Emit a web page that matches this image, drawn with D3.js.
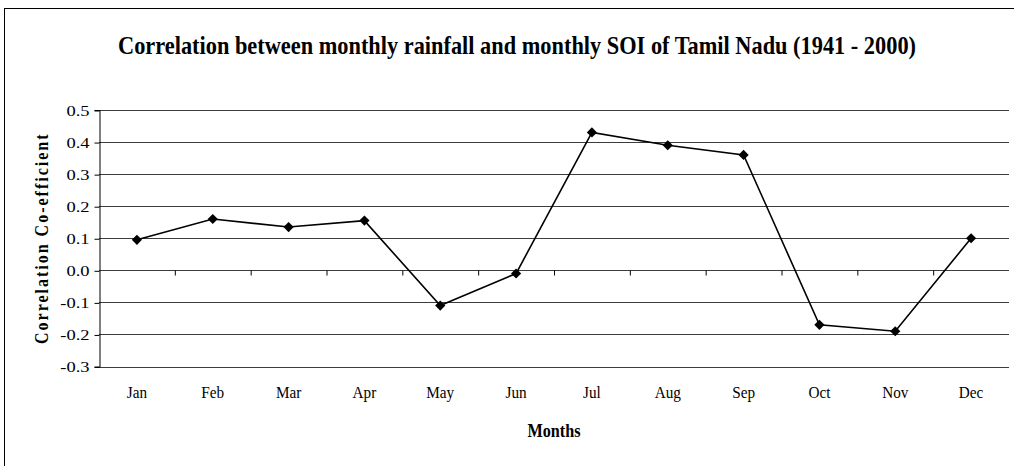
<!DOCTYPE html>
<html lang="en">
<head>
    <meta charset="UTF-8">
    <title>Correlation between monthly rainfall and monthly SOI of Tamil Nadu</title>
    <script src="https://d3js.org/d3.v7.min.js"></script>
    <style>
        body { margin: 0; background: #fff; }
        svg { font-family: "Liberation Serif", "Times New Roman", serif; }
    </style>
</head>
<body>
    <div id="chart"></div>
    <script>
        const months = ["Jan", "Feb", "Mar", "Apr", "May", "Jun", "Jul", "Aug", "Sep", "Oct", "Nov", "Dec"];
        const correlation = [0.095, 0.16, 0.135, 0.155, -0.11, -0.01, 0.43, 0.39, 0.36, -0.17, -0.19, 0.10];
        const yTicks = [-0.3, -0.2, -0.1, 0.0, 0.1, 0.2, 0.3, 0.4, 0.5];

        const width = 1014;
        const height = 466;
        const margin = { top: 110, right: 5, bottom: 99.5, left: 99 };

        const svg = d3.select("#chart").append("svg")
            .attr("width", width)
            .attr("height", height);

        // outer chart border (cropped on the right and bottom)
        svg.append("rect")
            .attr("x", 4.5)
            .attr("y", 8.5)
            .attr("width", width + 10)
            .attr("height", height + 10)
            .attr("fill", "none")
            .attr("stroke", "#000")
            .attr("stroke-width", 1);

        const x = d3.scaleBand()
            .domain(months)
            .range([margin.left, width - margin.right]);

        const y = d3.scaleLinear()
            .domain([-0.3, 0.5])
            .range([height - margin.bottom, margin.top]);

        // the original text is squeezed / widened a bit horizontally
        function stretch(sel, k) {
            sel.each(function () {
                const len = this.getComputedTextLength();
                d3.select(this)
                    .attr("textLength", len * k)
                    .attr("lengthAdjust", "spacingAndGlyphs");
            });
        }

        // horizontal gridlines
        svg.append("g")
            .selectAll("line")
            .data(yTicks)
            .enter().append("line")
            .attr("x1", margin.left)
            .attr("x2", width - margin.right)
            .attr("y1", d => Math.round(y(d)) + 0.5)
            .attr("y2", d => Math.round(y(d)) + 0.5)
            .attr("stroke", "#3c3c3c")
            .attr("stroke-width", 1);

        // y axis
        const yAxis = svg.append("g")
            .attr("transform", `translate(${margin.left + 0.5},0)`)
            .call(d3.axisLeft(y)
                .tickValues(yTicks)
                .tickSize(5)
                .tickPadding(5)
                .tickFormat(d => d.toFixed(1)));
        yAxis.attr("font-family", null);
        yAxis.select(".domain").attr("stroke", "#000");
        yAxis.selectAll(".tick line").attr("stroke", "#000")
            .attr("transform", "translate(0,0.5)");
        yAxis.selectAll(".tick text")
            .attr("font-size", 14)
            .attr("fill", "#000")
            .attr("dy", "0.36em")
            .call(stretch, 1.32);

        // x axis at zero with boundary ticks
        const bounds = d3.range(months.length + 1);
        const xb = d3.scaleLinear().domain([0, months.length]).range(x.range());
        const xAxis = svg.append("g")
            .attr("transform", `translate(0,${Math.round(y(0)) + 0.5})`)
            .call(d3.axisBottom(xb)
                .tickValues(bounds.slice(1, -1))
                .tickSize(5)
                .tickFormat(""));
        xAxis.select(".domain").remove();
        xAxis.selectAll(".tick line").attr("stroke", "#000");

        // category labels below plot
        const xLabels = svg.append("g")
            .attr("transform", `translate(0,${height - margin.bottom})`)
            .call(d3.axisBottom(x).tickSize(0).tickPadding(20));
        xLabels.attr("font-family", null);
        xLabels.select(".domain").remove();
        xLabels.selectAll(".tick text")
            .attr("font-size", 16)
            .attr("fill", "#000")
            .call(stretch, 0.95);

        // series line
        const line = d3.line()
            .x((d, i) => x(months[i]) + x.bandwidth() / 2)
            .y(d => y(d));

        svg.append("path")
            .datum(correlation)
            .attr("d", line)
            .attr("fill", "none")
            .attr("stroke", "#000")
            .attr("stroke-width", 1.6);

        // diamond markers
        const diamond = d3.symbol().type(d3.symbolSquare).size(52);
        svg.append("g")
            .selectAll("path")
            .data(correlation)
            .enter().append("path")
            .attr("d", diamond)
            .attr("transform", (d, i) => `translate(${x(months[i]) + x.bandwidth() / 2},${y(d)}) rotate(45)`)
            .attr("fill", "#000");

        // title
        const title = svg.append("text")
            .attr("x", 517)
            .attr("y", 54)
            .attr("text-anchor", "middle")
            .attr("font-size", 25)
            .attr("font-weight", "bold")
            .text("Correlation between monthly rainfall and monthly SOI of Tamil Nadu (1941 - 2000)");
        title.call(stretch, 798 / title.node().getComputedTextLength());

        // x axis title
        svg.append("text")
            .attr("x", (x.range()[0] + x.range()[1]) / 2)
            .attr("y", 437)
            .attr("text-anchor", "middle")
            .attr("font-size", 18)
            .attr("font-weight", "bold")
            .text("Months")
            .call(stretch, 0.9);

        // y axis title
        svg.append("text")
            .attr("transform", `translate(48,${(y(-0.3) + y(0.5)) / 2}) scale(1.2,1) rotate(-90)`)
            .attr("text-anchor", "middle")
            .attr("font-size", 16)
            .attr("font-weight", "bold")
            .attr("letter-spacing", 2)
            .text("Correlation Co-efficient");
    </script>
</body>
</html>
